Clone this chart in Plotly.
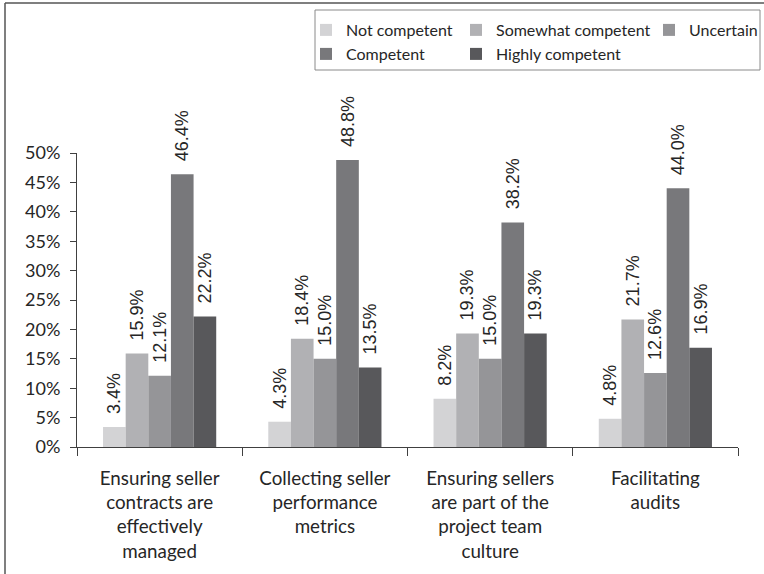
import plotly.graph_objects as go

# Survey responses (percent of respondents) per procurement activity
categories = [
    "Ensuring seller<br>contracts are<br>effectively<br>managed",
    "Collecting seller<br>performance<br>metrics",
    "Ensuring sellers<br>are part of the<br>project team<br>culture",
    "Facilitating<br>audits",
]
series_names = ["Not competent", "Somewhat competent", "Uncertain", "Competent", "Highly competent"]
not_competent = [3.4, 4.3, 8.2, 4.8]
somewhat_competent = [15.9, 18.4, 19.3, 21.7]
uncertain = [12.1, 15.0, 15.0, 12.6]
competent = [46.4, 48.8, 38.2, 44.0]
highly_competent = [22.2, 13.5, 19.3, 16.9]
y_ticks = [0, 5, 10, 15, 20, 25, 30, 35, 40, 45, 50]
y_tick_labels = [f"{t}%" for t in y_ticks]

series_values = [not_competent, somewhat_competent, uncertain, competent, highly_competent]
colors = ["#d3d3d5", "#b1b1b4", "#959598", "#78787b", "#58585b"]

W, H = 764, 574
ML, MR, MT, MB = 77, 26, 153, 127
PW, PH = W - ML - MR, H - MT - MB


def px_to_paper_x(px):
    return (px - ML) / PW


def px_to_paper_y(py):
    return (H - MB - py) / PH


TEXT_COLOR = "#262626"
SANS = "Lato, 'Open Sans', sans-serif"
XTICK_FONT = dict(family=SANS, size=18.8, color=TEXT_COLOR)
YTICK_FONT = dict(family=SANS, size=18, color=TEXT_COLOR)
LEGEND_FONT = dict(family=SANS, size=16, color=TEXT_COLOR)
LABEL_FONT = dict(family="'Liberation Sans', Arial, sans-serif", size=18, color=TEXT_COLOR)

# Legend laid out as a 3-column grid: (legend id, column left px, row top px)
legend_cells = [
    ("legend", 306, 13),
    ("legend2", 456, 13),
    ("legend3", 649, 13),
    ("legend4", 306, 37),
    ("legend5", 456, 37),
]

fig = go.Figure()
for name, vals, col, (lg, _, _) in zip(series_names, series_values, colors, legend_cells):
    fig.add_trace(go.Bar(
        name=name,
        x=categories,
        y=vals,
        marker=dict(color=col, line=dict(width=0)),
        text=["\u00a0\u00a0" + f"{v:.1f}%" for v in vals],
        textposition="outside",
        textangle=-90,
        textfont=LABEL_FONT,
        constraintext="none",
        cliponaxis=False,
        legend=lg,
        hoverinfo="skip",
    ))

legend_layouts = {}
for lg, lx, ly in legend_cells:
    legend_layouts[lg] = dict(
        orientation="h", xref="container", yref="container",
        x=lx / W, y=1 - ly / H, xanchor="left", yanchor="top",
        font=LEGEND_FONT, bgcolor="rgba(0,0,0,0)", borderwidth=0,
        itemwidth=30,
    )

fig.update_layout(
    width=W, height=H, autosize=False,
    margin=dict(l=ML, r=MR, t=MT, b=MB, pad=0),
    paper_bgcolor="white", plot_bgcolor="white",
    barmode="group", bargap=0.315, bargroupgap=0,
    font=dict(family=SANS, color=TEXT_COLOR),
    xaxis=dict(
        showline=True, linecolor="#404040", linewidth=1,
        ticks="outside", tickson="boundaries", ticklen=8, tickcolor="#404040",
        tickfont=XTICK_FONT, showgrid=False, ticklabelstandoff=14,
    ),
    yaxis=dict(
        range=[0, 50], tickvals=y_ticks, ticktext=y_tick_labels,
        showline=True, linecolor="#404040", linewidth=1,
        ticks="outside", ticklen=6, tickcolor="#404040",
        tickfont=YTICK_FONT, showgrid=False, zeroline=False,
        ticklabelstandoff=6,
    ),
    yaxis2=dict(
        overlaying="y", range=[0, 50], dtick=10,
        showgrid=True, gridcolor="#cfcfcf", gridwidth=1,
        showticklabels=False, showline=False, ticks="", zeroline=False,
    ),
    showlegend=True,
    **legend_layouts,
)

# Frame lines and legend box
fig.add_shape(type="line", xref="paper", yref="paper",
              x0=px_to_paper_x(5), x1=px_to_paper_x(W + 2),
              y0=px_to_paper_y(3), y1=px_to_paper_y(3),
              line=dict(color="#555555", width=1.5))
fig.add_shape(type="line", xref="paper", yref="paper",
              x0=px_to_paper_x(5), x1=px_to_paper_x(5),
              y0=px_to_paper_y(3), y1=px_to_paper_y(H + 2),
              line=dict(color="#555555", width=1.5))
fig.add_shape(type="rect", xref="paper", yref="paper",
              x0=px_to_paper_x(315), x1=px_to_paper_x(760),
              y0=px_to_paper_y(10), y1=px_to_paper_y(70),
              line=dict(color="#8a8a8a", width=1), fillcolor="rgba(0,0,0,0)")

fig.write_html("out.html")
